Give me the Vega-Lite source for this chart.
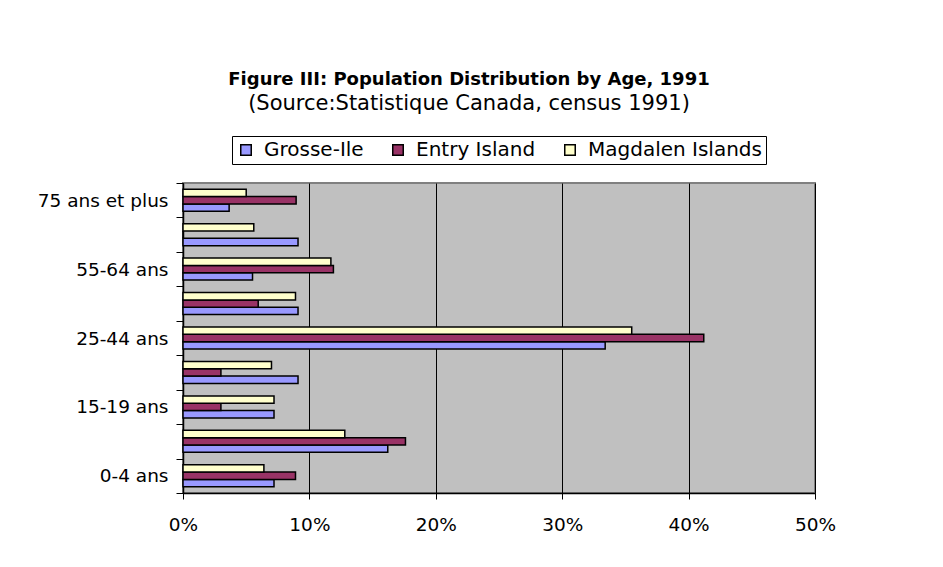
{
  "$schema": "https://vega.github.io/schema/vega-lite/v6.json",
  "width": 632,
  "height": 310,
  "autosize": {"type": "none"},
  "padding": {"left": 183, "top": 183, "right": 128, "bottom": 74},
  "background": "white",
  "title": {
    "text": "Figure III: Population Distribution by Age, 1991",
    "subtitle": "(Source:Statistique Canada, census 1991)",
    "anchor": "middle",
    "frame": "group",
    "dx": -30,
    "offset": 22,
    "font": "DejaVu Sans",
    "fontSize": 18,
    "fontWeight": "bold",
    "color": "black",
    "subtitleFont": "DejaVu Sans",
    "subtitleFontSize": 21,
    "subtitleColor": "black",
    "subtitlePadding": 4
  },
  "data": {
    "values": [
      {"age": "0-4 ans", "region": "Grosse-Ile", "pct": 7.2},
      {"age": "0-4 ans", "region": "Entry Island", "pct": 8.9},
      {"age": "0-4 ans", "region": "Magdalen Islands", "pct": 6.4},
      {"age": "5-14 ans", "region": "Grosse-Ile", "pct": 16.2},
      {"age": "5-14 ans", "region": "Entry Island", "pct": 17.6},
      {"age": "5-14 ans", "region": "Magdalen Islands", "pct": 12.8},
      {"age": "15-19 ans", "region": "Grosse-Ile", "pct": 7.2},
      {"age": "15-19 ans", "region": "Entry Island", "pct": 3.0},
      {"age": "15-19 ans", "region": "Magdalen Islands", "pct": 7.2},
      {"age": "20-24 ans", "region": "Grosse-Ile", "pct": 9.1},
      {"age": "20-24 ans", "region": "Entry Island", "pct": 3.0},
      {"age": "20-24 ans", "region": "Magdalen Islands", "pct": 7.0},
      {"age": "25-44 ans", "region": "Grosse-Ile", "pct": 33.4},
      {"age": "25-44 ans", "region": "Entry Island", "pct": 41.2},
      {"age": "25-44 ans", "region": "Magdalen Islands", "pct": 35.5},
      {"age": "45-54 ans", "region": "Grosse-Ile", "pct": 9.1},
      {"age": "45-54 ans", "region": "Entry Island", "pct": 5.95},
      {"age": "45-54 ans", "region": "Magdalen Islands", "pct": 8.9},
      {"age": "55-64 ans", "region": "Grosse-Ile", "pct": 5.5},
      {"age": "55-64 ans", "region": "Entry Island", "pct": 11.9},
      {"age": "55-64 ans", "region": "Magdalen Islands", "pct": 11.7},
      {"age": "65-74 ans", "region": "Grosse-Ile", "pct": 9.1},
      {"age": "65-74 ans", "region": "Entry Island", "pct": 0},
      {"age": "65-74 ans", "region": "Magdalen Islands", "pct": 5.6},
      {"age": "75 ans et plus", "region": "Grosse-Ile", "pct": 3.65},
      {"age": "75 ans et plus", "region": "Entry Island", "pct": 8.95},
      {"age": "75 ans et plus", "region": "Magdalen Islands", "pct": 5.0}
    ]
  },
  "mark": {"type": "bar", "stroke": "black", "strokeWidth": 1.5},
  "encoding": {
    "y": {
      "field": "age",
      "type": "nominal",
      "sort": ["75 ans et plus", "65-74 ans", "55-64 ans", "45-54 ans", "25-44 ans", "20-24 ans", "15-19 ans", "5-14 ans", "0-4 ans"],
      "scale": {"paddingInner": 0, "paddingOuter": 0},
      "axis": {
        "title": null,
        "tickBand": "extent",
        "labelExpr": "indexof(['0-4 ans','15-19 ans','25-44 ans','55-64 ans','75 ans et plus'], datum.value) >= 0 ? datum.value : ''",
        "labelFont": "DejaVu Sans",
        "labelFontSize": 18.5,
        "labelColor": "black",
        "labelPadding": 8,
        "domainColor": "black",
        "domainWidth": 1.5,
        "tickColor": "black",
        "tickSize": 7,
        "tickWidth": 1,
        "grid": false
      }
    },
    "yOffset": {
      "field": "region",
      "type": "nominal",
      "sort": ["Magdalen Islands", "Entry Island", "Grosse-Ile"],
      "scale": {"paddingInner": 0, "paddingOuter": 0.85}
    },
    "x": {
      "field": "pct",
      "type": "quantitative",
      "scale": {"domain": [0, 50], "nice": false},
      "axis": {
        "title": null,
        "values": [0, 10, 20, 30, 40, 50],
        "labelExpr": "datum.value + '%'",
        "labelFlush": false,
        "labelFont": "DejaVu Sans",
        "labelFontSize": 18.5,
        "labelColor": "black",
        "labelPadding": 16,
        "domainColor": "black",
        "domainWidth": 1.5,
        "tickColor": "black",
        "tickSize": 6,
        "grid": true,
        "gridColor": "black",
        "gridWidth": 1,
        "gridOpacity": 1
      }
    },
    "color": {
      "field": "region",
      "type": "nominal",
      "scale": {
        "domain": ["Grosse-Ile", "Entry Island", "Magdalen Islands"],
        "range": ["#9999FF", "#993366", "#FFFFCC"]
      },
      "legend": {
        "title": null,
        "orient": "none",
        "direction": "horizontal",
        "legendX": 49,
        "legendY": -47,
        "strokeColor": "black",
        "fillColor": "white",
        "padding": 4,
        "labelFont": "DejaVu Sans",
        "labelFontSize": 20,
        "labelLimit": 400,
        "labelColor": "black",
        "labelOffset": 8,
        "symbolType": "square",
        "symbolSize": 110,
        "symbolStrokeColor": "black",
        "symbolStrokeWidth": 1.5,
        "symbolOpacity": 1,
        "columnPadding": 24
      }
    }
  },
  "config": {
    "view": {"fill": "#C0C0C0", "stroke": "#808080", "strokeWidth": 2}
  }
}
